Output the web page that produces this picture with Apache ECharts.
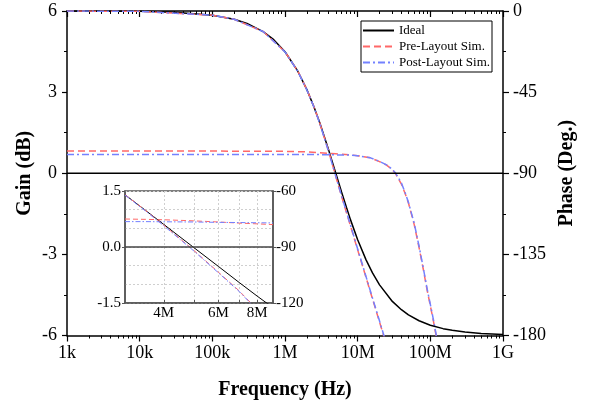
<!DOCTYPE html>
<html><head><meta charset="utf-8">
<script src="https://cdn.jsdelivr.net/npm/echarts@6/dist/echarts.min.js"></script>
<style>html,body{margin:0;padding:0;background:#fff}#c{width:590px;height:408px}</style>
</head><body><div id="c"></div>
<script>
// ---------- main plot data ----------
const freqTickValues = [1e3, 1e4, 1e5, 1e6, 1e7, 1e8, 1e9];
const freqTickLabels = ['1k', '10k', '100k', '1M', '10M', '100M', '1G'];

const idealGainFreq = [1e3, 1e9];
const idealGain = [0, 0];

const idealPhaseFreq = [1e3, 1e4, 3e4, 1e5, 2e5, 3e5, 5e5, 7e5, 1e6, 1.5e6, 2e6, 2.5e6, 3e6, 4e6, 5e6, 6e6, 7e6, 8e6, 1e7, 1.3e7, 1.6e7, 2e7, 3e7, 4e7, 5e7, 7e7, 1e8, 1.5e8, 2e8, 3e8, 5e8, 1e9];
const idealPhase = [0, -0.2, -0.7, -2.3, -4.6, -6.9, -11.4, -15.9, -22.6, -33.4, -43.6, -53.1, -61.9, -77.3, -90, -100.4, -108.9, -116.0, -126.9, -137.9, -145.3, -151.9, -161.1, -165.7, -168.6, -171.8, -174.3, -176.2, -177.1, -178.1, -178.9, -179.4];

const simGainFreq = [1e3, 1e4, 1e5, 1e6, 2e6, 3e6, 5e6, 8e6, 1e7, 1.5e7, 2e7, 2.5e7, 3e7, 3.3e7, 4e7, 4.5e7, 5e7, 6e7, 7e7, 8e7, 9e7, 1e8, 1.1e8, 1.2e8, 1.3e8];
const preGain  = [0.82, 0.82, 0.82, 0.81, 0.79, 0.76, 0.72, 0.68, 0.65, 0.57, 0.43, 0.30, 0.13, 0.0, -0.40, -0.75, -1.10, -1.90, -2.75, -3.55, -4.30, -4.90, -5.45, -6.00, -6.60];
const postGain = [0.69, 0.69, 0.69, 0.69, 0.69, 0.69, 0.68, 0.67, 0.65, 0.57, 0.44, 0.31, 0.14, 0.02, -0.36, -0.72, -1.08, -1.85, -2.70, -3.50, -4.25, -4.85, -5.40, -5.95, -6.55];

const simPhaseFreq = [1e3, 1e4, 1e5, 2e5, 5e5, 1e6, 1.5e6, 2e6, 2.5e6, 3e6, 4e6, 5e6, 6e6, 8e6, 1e7, 1.2e7, 1.5e7, 2e7, 2.5e7];
const prePhase  = [0, -0.2, -2.3, -4.6, -11.4, -22.6, -33.4, -43.6, -53.1, -62.0, -78.0, -91.8, -102.8, -119.5, -132.5, -143.0, -156.0, -172.5, -185.5];
const postPhase = [0, -0.2, -2.3, -4.6, -11.4, -22.7, -33.5, -43.8, -53.3, -62.2, -78.3, -91.6, -102.5, -119.0, -132.0, -142.5, -155.5, -172.0, -185.0];

// ---------- inset data ----------
const insetFreq = [3e6, 3.5e6, 4e6, 5e6, 6e6, 7e6, 8e6, 9e6];
const insetIdealPhase = [-62.0, -70.5, -77.9, -90.3, -100.4, -109.0, -116.3, -122.5];
const insetPrePhase   = [-62.0, -70.5, -78.3, -91.8, -103.5, -113.5, -123.5, -130.0];
const insetPostPhase  = [-62.2, -70.8, -78.6, -92.1, -103.8, -113.8, -123.8, -130.3];
const insetPreGain    = [0.75, 0.74, 0.73, 0.70, 0.67, 0.64, 0.62, 0.60];
const insetPostGain   = [0.68, 0.68, 0.675, 0.67, 0.66, 0.655, 0.65, 0.645];
const insetIdealGainFreq = [3e6, 9e6];
const insetIdealGain = [0, 0];
const insetTickValues = [4e6, 6e6, 8e6];
const insetTickLabels = ['4M', '6M', '8M'];
const insetGridValues = [4e6, 5e6, 6e6, 7e6, 8e6];

// ---------- helpers ----------
const zip = (xs, ys) => xs.map((x, i) => [x, ys[i]]);
const FONT = "'Liberation Serif', 'Times New Roman', serif";
const minorFreqTicks = [];
for (let e = 3; e < 9; e++) for (let m = 2; m <= 9; m++) minorFreqTicks.push(m * Math.pow(10, e));
const labelFor = (vals, labels) => v => {
  const i = vals.findIndex(t => Math.abs(Math.log10(t) - Math.log10(v)) < 1e-6);
  return i >= 0 ? labels[i] : '';
};

const RED = '#ff6868', BLUE = '#7381ff';
const preStyle = { color: RED, width: 1.5, type: [7, 4] };
const postStyle = { color: BLUE, width: 1.5, type: [7, 3, 2, 3] };
const idealStyle = { color: '#000', width: 1.5 };

const axisBlack = { show: true, onZero: false, lineStyle: { color: '#000', width: 1.5 } };

function line(name, xi, yi, data, ls, color, z) {
  return { name, type: 'line', xAxisIndex: xi, yAxisIndex: yi, data, symbol: 'none', showSymbol: false,
    lineStyle: ls, itemStyle: { color }, clip: true, z: z || 2 };
}

const chart = echarts.init(document.getElementById('c'), null, { renderer: 'canvas' });
chart.setOption({
  animation: false,
  backgroundColor: '#fff',
  textStyle: { fontFamily: FONT },
  legend: {
    data: ['Ideal', 'Pre-Layout Sim.', 'Post-Layout Sim.'],
    orient: 'vertical', left: 361, top: 21,
    itemWidth: 31, itemHeight: 13, itemGap: 3,
    padding: [3, 2, 3, 1],
    borderColor: '#000', borderWidth: 1, backgroundColor: '#fff',
    itemStyle: { opacity: 0 },
    textStyle: { fontSize: 13, fontFamily: FONT, color: '#000' }
  },
  grid: [
    { left: 67, top: 11, width: 436, height: 324.5 },
    { left: 125, top: 191, width: 148, height: 112, show: true, backgroundColor: '#fff', borderColor: '#555', borderWidth: 1.5 }
  ],
  xAxis: [
    { // 0 main bottom
      type: 'log', logBase: 10, min: 1e3, max: 1e9, gridIndex: 0, position: 'bottom',
      axisLine: axisBlack,
      axisTick: { show: true, inside: false, length: 6, customValues: freqTickValues, lineStyle: { color: '#000', width: 1.2 } },
      axisLabel: { customValues: freqTickValues, formatter: labelFor(freqTickValues, freqTickLabels), fontSize: 18, color: '#000', fontFamily: FONT, margin: 9 },
      splitLine: { show: false }, minorTick: { show: false },
      name: 'Frequency (Hz)', nameLocation: 'middle', nameGap: 44,
      nameTextStyle: { fontSize: 20, fontWeight: 'bold', color: '#000', fontFamily: FONT }
    },
    { // 1 main bottom minor
      type: 'log', logBase: 10, min: 1e3, max: 1e9, gridIndex: 0, position: 'bottom',
      axisLine: { show: false, onZero: false },
      axisTick: { show: true, inside: false, length: 3, customValues: minorFreqTicks, lineStyle: { color: '#000', width: 1 } },
      axisLabel: { show: false }, splitLine: { show: false }
    },
    { // 2 main top
      type: 'log', logBase: 10, min: 1e3, max: 1e9, gridIndex: 0, position: 'top',
      axisLine: axisBlack,
      axisTick: { show: true, inside: true, length: 6, customValues: freqTickValues, lineStyle: { color: '#000', width: 1.2 } },
      axisLabel: { show: false }, splitLine: { show: false }
    },
    { // 3 main top minor
      type: 'log', logBase: 10, min: 1e3, max: 1e9, gridIndex: 0, position: 'top',
      axisLine: { show: false, onZero: false },
      axisTick: { show: true, inside: true, length: 3, customValues: minorFreqTicks, lineStyle: { color: '#000', width: 1 } },
      axisLabel: { show: false }, splitLine: { show: false }
    },
    { // 4 inset
      type: 'log', logBase: 10, min: 3e6, max: 9e6, gridIndex: 1, position: 'bottom',
      axisLine: { show: true, onZero: false, lineStyle: { color: '#555', width: 1.5 } },
      axisTick: { show: true, inside: true, length: 3, customValues: insetGridValues, lineStyle: { color: '#555', width: 1 } },
      axisLabel: { customValues: insetTickValues, formatter: labelFor(insetTickValues, insetTickLabels), fontSize: 15, color: '#000', fontFamily: FONT, margin: 3 },
      splitLine: { show: true, lineStyle: { color: '#cfcfcf', width: 1, type: [2, 2] } }
    }
  ],
  yAxis: [
    { // 0 gain
      type: 'value', gridIndex: 0, position: 'left', min: -6, max: 6, interval: 3,
      axisLine: axisBlack,
      axisTick: { show: true, inside: false, length: 5, lineStyle: { color: '#000', width: 1.2 } },
      minorTick: { show: true, splitNumber: 2, length: 3, lineStyle: { color: '#000', width: 1 } },
      axisLabel: { fontSize: 18, color: '#000', fontFamily: FONT, margin: 10 },
      splitLine: { show: false },
      name: 'Gain (dB)', nameLocation: 'middle', nameRotate: 90, nameGap: 32, nameMoveOverlap: false,
      nameTextStyle: { fontSize: 20, fontWeight: 'bold', color: '#000', fontFamily: FONT }
    },
    { // 1 phase
      type: 'value', gridIndex: 0, position: 'right', min: -180, max: 0, interval: 45,
      axisLine: axisBlack,
      axisTick: { show: true, inside: false, length: 6, lineStyle: { color: '#000', width: 1.2 } },
      minorTick: { show: true, splitNumber: 2, length: 3, lineStyle: { color: '#000', width: 1 } },
      axisLabel: { fontSize: 18, color: '#000', fontFamily: FONT, margin: 10 },
      splitLine: { show: false },
      name: 'Phase (Deg.)', nameLocation: 'middle', nameRotate: 90, nameGap: 53,
      nameTextStyle: { fontSize: 20, fontWeight: 'bold', color: '#000', fontFamily: FONT }
    },
    { // 2 inset gain
      type: 'value', gridIndex: 1, position: 'left', min: -1.5, max: 1.5, interval: 1.5,
      axisLine: { show: true, onZero: false, lineStyle: { color: '#555', width: 1.5 } },
      axisTick: { show: true, inside: false, length: 3, lineStyle: { color: '#555' } },
      minorTick: { show: false, splitNumber: 3 },
      minorSplitLine: { show: true, lineStyle: { color: '#cfcfcf', width: 1, type: [2, 2] } },
      axisLabel: { fontSize: 15, color: '#000', fontFamily: FONT, margin: 4, formatter: v => v.toFixed(1) },
      splitLine: { show: true, lineStyle: { color: '#cfcfcf', width: 1, type: [2, 2] } }
    },
    { // 3 inset phase
      type: 'value', gridIndex: 1, position: 'right', min: -120, max: -60, interval: 30,
      axisLine: { show: true, onZero: false, lineStyle: { color: '#555', width: 1.5 } },
      axisTick: { show: true, inside: false, length: 3, lineStyle: { color: '#555' } },
      axisLabel: { fontSize: 15, color: '#000', fontFamily: FONT, margin: 3 },
      splitLine: { show: false }
    }
  ],
  series: [
    line('Ideal', 0, 0, zip(idealGainFreq, idealGain), idealStyle, '#000', 3),
    line('Pre-Layout Sim.', 0, 0, zip(simGainFreq, preGain), preStyle, RED),
    line('Post-Layout Sim.', 0, 0, zip(simGainFreq, postGain), postStyle, BLUE),
    line('Ideal', 0, 1, zip(idealPhaseFreq, idealPhase), idealStyle, '#000'),
    line('Pre-Layout Sim.', 0, 1, zip(simPhaseFreq, prePhase), preStyle, RED),
    line('Post-Layout Sim.', 0, 1, zip(simPhaseFreq, postPhase), postStyle, BLUE),
    // inset
    line('Ideal', 4, 2, zip(insetIdealGainFreq, insetIdealGain), { color: '#444', width: 1.5 }, '#000', 3),
    line('Pre-Layout Sim.', 4, 2, zip(insetFreq, insetPreGain), { color: RED, width: 1, type: [5, 3] }, RED),
    line('Post-Layout Sim.', 4, 2, zip(insetFreq, insetPostGain), { color: BLUE, width: 1, type: [5, 2, 1.5, 2] }, BLUE),
    line('Ideal', 4, 3, zip(insetFreq, insetIdealPhase), { color: '#000', width: 1 }, '#000'),
    line('Pre-Layout Sim.', 4, 3, zip(insetFreq, insetPrePhase), { color: RED, width: 1, type: [5, 3] }, RED),
    line('Post-Layout Sim.', 4, 3, zip(insetFreq, insetPostPhase), { color: BLUE, width: 1, type: [5, 2, 1.5, 2] }, BLUE)
  ]
});
</script></body></html>
